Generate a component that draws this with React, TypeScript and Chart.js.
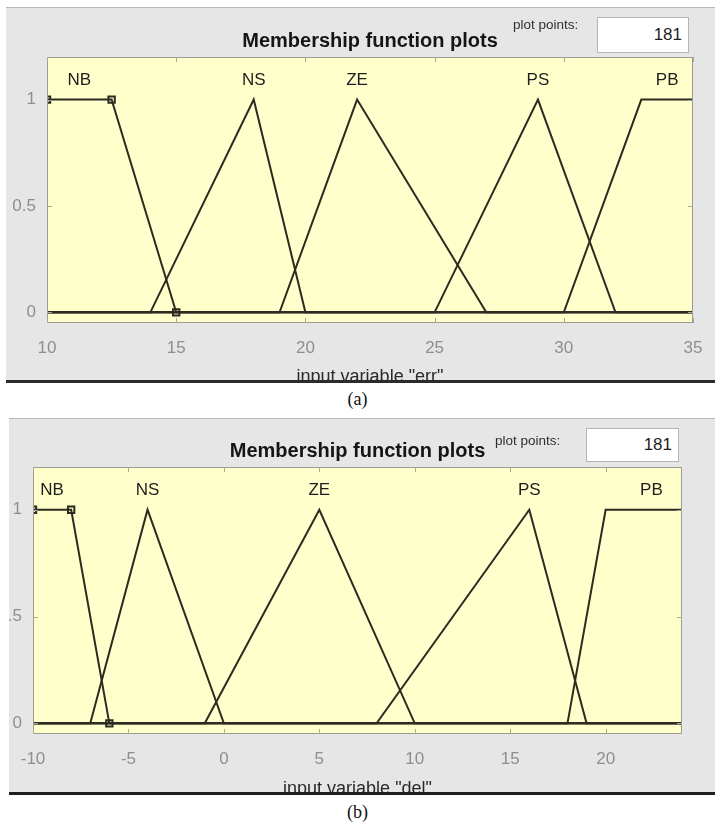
import React, { useEffect, useRef } from "react";
import { Chart, registerables } from "chart.js";
Chart.register(...registerables);

// ---------- shared ----------
const mfNames = ["NB", "NS", "ZE", "PS", "PB"];
const yTicks = [0, 0.5, 1];
const yRange = [-0.05, 1.2];
const labelLevel = 1.09;
const plotPoints = "181";

// ---------- panel (a): input variable "err" ----------
const errRange = [10, 35];
const errXTicks = [10, 15, 20, 25, 30, 35];
const errNB_x = [10, 12.5, 15, 35];
const errNB_y = [1, 1, 0, 0];
const errNS_x = [10, 14, 18, 20, 35];
const errNS_y = [0, 0, 1, 0, 0];
const errZE_x = [10, 19, 22, 27, 35];
const errZE_y = [0, 0, 1, 0, 0];
const errPS_x = [10, 25, 29, 32, 35];
const errPS_y = [0, 0, 1, 0, 0];
const errPB_x = [10, 30, 33, 35];
const errPB_y = [0, 0, 1, 1];
const errMarkX = [10, 12.5, 15];
const errMarkY = [1, 1, 0];
const errLabelX = [11.25, 18, 22, 29, 34];

// ---------- panel (b): input variable "del" ----------
const delRange = [-10, 24];
const delXTicks = [-10, -5, 0, 5, 10, 15, 20];
const delNB_x = [-10, -8, -6, 24];
const delNB_y = [1, 1, 0, 0];
const delNS_x = [-10, -7, -4, 0, 24];
const delNS_y = [0, 0, 1, 0, 0];
const delZE_x = [-10, -1, 5, 10, 24];
const delZE_y = [0, 0, 1, 0, 0];
const delPS_x = [-10, 8, 16, 19, 24];
const delPS_y = [0, 0, 1, 0, 0];
const delPB_x = [-10, 18, 20, 24];
const delPB_y = [0, 0, 1, 1];
const delMarkX = [-10, -8, -6];
const delMarkY = [1, 1, 0];
const delLabelX = [-9, -4, 5, 16, 22.4];

const LINE = "#2b2b20";
const FONT = "'Liberation Sans', Arial, Helvetica, sans-serif";

const zip = (xs: number[], ys: number[]) => xs.map((x, i) => ({ x, y: ys[i] }));

const decor = {
  id: "decor",
  beforeDraw(chart: any) {
    const { ctx, chartArea: a } = chart;
    ctx.save();
    ctx.fillStyle = "#ffffcc";
    ctx.fillRect(a.left, a.top, a.right - a.left, a.bottom - a.top);
    ctx.restore();
  },
  afterDraw(chart: any, _a: any, o: any) {
    const { ctx, chartArea: a, scales } = chart;
    const xs = scales.x, ys = scales.y;
    ctx.save();
    // border
    ctx.strokeStyle = "#9c9c90";
    ctx.lineWidth = 1;
    ctx.strokeRect(a.left + 0.5, a.top + 0.5, a.right - a.left - 1, a.bottom - a.top - 1);
    // small inward ticks
    ctx.strokeStyle = "#a8a8a0";
    ctx.beginPath();
    o.xTicks.forEach((v: number) => {
      const px = Math.round(xs.getPixelForValue(v)) + 0.5;
      ctx.moveTo(px, a.top); ctx.lineTo(px, a.top + 5);
      ctx.moveTo(px, a.bottom); ctx.lineTo(px, a.bottom - 5);
    });
    o.yTicks.forEach((v: number) => {
      const py = Math.round(ys.getPixelForValue(v)) + 0.5;
      ctx.moveTo(a.left, py); ctx.lineTo(a.left + 5, py);
      ctx.moveTo(a.right, py); ctx.lineTo(a.right - 5, py);
    });
    ctx.stroke();
    // MF names
    ctx.fillStyle = "#1e1e1e";
    ctx.font = `17px ${FONT}`;
    ctx.textAlign = "center";
    ctx.textBaseline = "middle";
    o.names.forEach((n: string, i: number) => {
      ctx.fillText(n, xs.getPixelForValue(o.labelX[i]), ys.getPixelForValue(labelLevel));
    });
    // title
    const cx = (a.left + a.right) / 2;
    ctx.fillStyle = "#151515";
    ctx.font = `bold 20px ${FONT}`;
    ctx.textBaseline = "alphabetic";
    ctx.fillText(o.title, cx, o.titleY);
    // x label
    ctx.fillStyle = "#2a2a2a";
    ctx.font = `18px ${FONT}`;
    ctx.fillText(o.xlabel, cx, o.xlabelY);
    ctx.restore();
  },
};

type PanelProps = {
  left: number; top: number; width: number; height: number;
  yAxisW: number; topPad: number; rightPad: number; xAxisH: number;
  range: number[]; xTicks: number[];
  series: { x: number[]; y: number[] }[];
  markX: number[]; markY: number[]; labelX: number[];
  xlabel: string; titleY: number; xlabelY: number;
};

function MFPanel(p: PanelProps) {
  const ref = useRef<HTMLCanvasElement>(null);
  useEffect(() => {
    const canvas = ref.current!;
    const datasets: any[] = p.series.map((s, i) => ({
      label: mfNames[i],
      data: zip(s.x, s.y),
      borderColor: LINE,
      borderWidth: 2,
      pointRadius: 0,
      showLine: true,
      fill: false,
      tension: 0,
    }));
    datasets.push({
      label: "marks",
      data: zip(p.markX, p.markY),
      showLine: false,
      pointStyle: "rect",
      pointRadius: 4.5,
      pointBorderWidth: 2,
      pointBorderColor: LINE,
      pointBackgroundColor: "rgba(0,0,0,0)",
    });
    const tickFont = { family: FONT, size: 17 };
    const chart = new Chart(canvas, {
      type: "scatter",
      data: { datasets },
      plugins: [decor],
      options: {
        animation: false,
        responsive: false,
        devicePixelRatio: 1,
        events: [],
        layout: { padding: { left: 0, top: p.topPad, right: p.rightPad, bottom: 0 } },
        plugins: {
          legend: { display: false },
          tooltip: { enabled: false },
          decor: {
            names: mfNames, labelX: p.labelX, xTicks: p.xTicks, yTicks,
            title: "Membership function plots", xlabel: p.xlabel,
            titleY: p.titleY, xlabelY: p.xlabelY,
          },
        } as any,
        scales: {
          x: {
            type: "linear",
            min: p.range[0],
            max: p.range[1],
            grid: { display: false, drawTicks: false },
            border: { display: false },
            afterBuildTicks: (s: any) => { s.ticks = p.xTicks.map((v) => ({ value: v })); },
            afterFit: (s: any) => { s.height = p.xAxisH; s.paddingLeft = 0; s.paddingRight = 0; },
            ticks: { font: tickFont, color: "#8e8e8e", padding: 15, autoSkip: false, maxRotation: 0 },
          },
          y: {
            type: "linear",
            min: yRange[0],
            max: yRange[1],
            grid: { display: false, drawTicks: false },
            border: { display: false },
            afterBuildTicks: (s: any) => { s.ticks = yTicks.map((v) => ({ value: v })); },
            afterFit: (s: any) => { s.width = p.yAxisW; s.paddingTop = 0; s.paddingBottom = 0; },
            ticks: { font: tickFont, color: "#8e8e8e", padding: 11, callback: (v: any) => String(v) },
          },
        },
      } as any,
    });
    return () => chart.destroy();
  }, []);
  return (
    <div
      style={{
        position: "absolute", left: p.left, top: p.top, width: p.width, height: p.height,
        background: "#e6e6e6", borderTop: "1px solid #b8b8b8", boxSizing: "border-box", overflow: "hidden",
      }}
    >
      <canvas ref={ref} width={p.width} height={p.height} style={{ position: "absolute", left: 0, top: -1, width: p.width, height: p.height }} />
    </div>
  );
}

function PointsBox(props: { labelLeft: number; labelCY: number; boxLeft: number; boxTop: number; boxW: number; boxH: number }) {
  const { labelLeft, labelCY, boxLeft, boxTop, boxW, boxH } = props;
  return (
    <>
      <div style={{ position: "absolute", left: labelLeft, top: labelCY - 8, height: 16, lineHeight: "16px", fontFamily: FONT, fontSize: 13.5, color: "#303030", whiteSpace: "nowrap" }}>
        plot points:
      </div>
      <div style={{ position: "absolute", left: boxLeft, top: boxTop, width: boxW, height: boxH, boxSizing: "border-box", background: "#ffffff", border: "1px solid #b4b4b4", fontFamily: FONT, fontSize: 17, color: "#1e1e1e", textAlign: "right", paddingRight: 6, lineHeight: `${boxH - 2}px` }}>
        {plotPoints}
      </div>
    </>
  );
}

export default function App() {
  const errSeries = [
    { x: errNB_x, y: errNB_y }, { x: errNS_x, y: errNS_y }, { x: errZE_x, y: errZE_y },
    { x: errPS_x, y: errPS_y }, { x: errPB_x, y: errPB_y },
  ];
  const delSeries = [
    { x: delNB_x, y: delNB_y }, { x: delNS_x, y: delNS_y }, { x: delZE_x, y: delZE_y },
    { x: delPS_x, y: delPS_y }, { x: delPB_x, y: delPB_y },
  ];
  return (
    <div style={{ position: "absolute", left: 0, top: 0, width: 715, height: 826, background: "#ffffff", overflow: "hidden" }}>
      <MFPanel
        left={6} top={7} width={709} height={373}
        yAxisW={41} topPad={50} rightPad={22} xAxisH={57}
        range={errRange} xTicks={errXTicks} series={errSeries}
        markX={errMarkX} markY={errMarkY} labelX={errLabelX}
        xlabel={'input variable "err"'} titleY={40} xlabelY={375}
      />
      <div style={{ position: "absolute", left: 6, top: 380, width: 709, height: 3, background: "#2b2b2b" }} />
      <PointsBox labelLeft={513} labelCY={25} boxLeft={597} boxTop={17} boxW={92} boxH={36} />
      <div style={{ position: "absolute", left: 0, width: 715, top: 388, height: 22, lineHeight: "22px", textAlign: "center", fontFamily: "'Liberation Serif', 'Times New Roman', serif", fontSize: 18, color: "#111" }}>
        (a)
      </div>

      <MFPanel
        left={9} top={418} width={706} height={374}
        yAxisW={24} topPad={49} rightPad={33} xAxisH={58}
        range={delRange} xTicks={delXTicks} series={delSeries}
        markX={delMarkX} markY={delMarkY} labelX={delLabelX}
        xlabel={'input variable "del"'} titleY={39} xlabelY={376}
      />
      <div style={{ position: "absolute", left: 9, top: 792, width: 706, height: 3, background: "#1e1e1e" }} />
      <PointsBox labelLeft={495} labelCY={441} boxLeft={586} boxTop={428} boxW={93} boxH={34} />
      <div style={{ position: "absolute", left: 0, width: 715, top: 801, height: 22, lineHeight: "22px", textAlign: "center", fontFamily: "'Liberation Serif', 'Times New Roman', serif", fontSize: 18, color: "#111" }}>
        (b)
      </div>
    </div>
  );
}
